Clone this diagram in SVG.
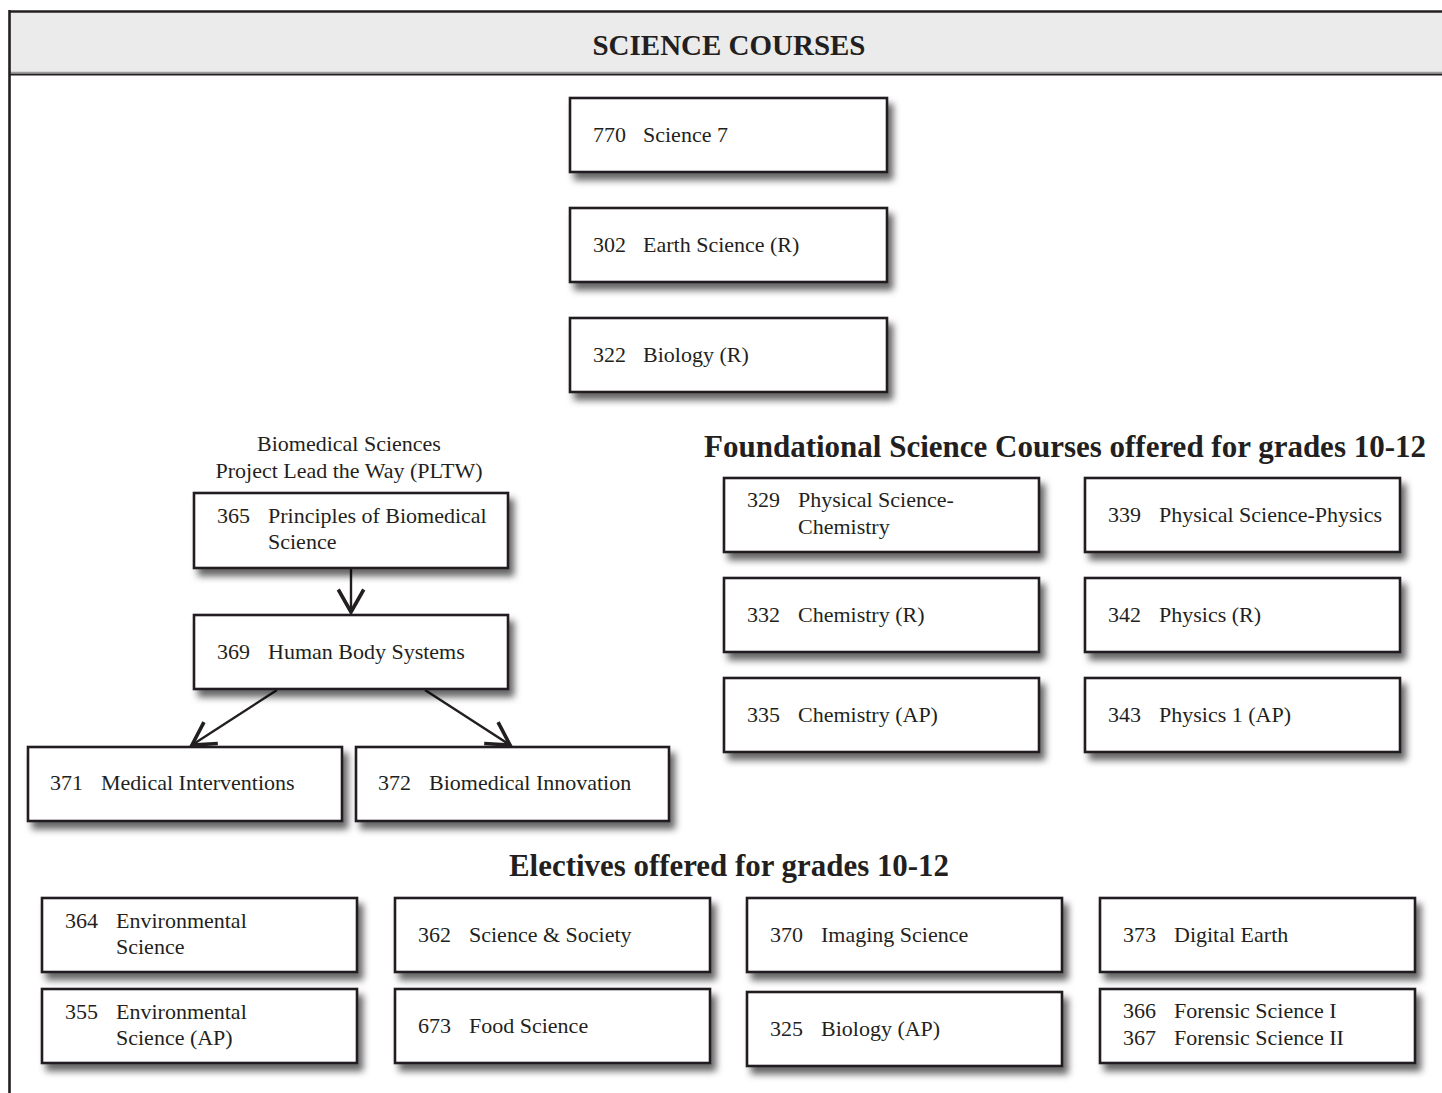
<svg xmlns="http://www.w3.org/2000/svg" width="1442" height="1093" viewBox="0 0 1442 1093">
<style>
  .box { fill: #ffffff; stroke: #231f20; stroke-width: 2.6; filter: url(#sh); }
  .t { font-family: "Liberation Serif", "Times New Roman", serif; font-size: 22px; fill: #231f20; }
  .h { font-family: "Liberation Serif", "Times New Roman", serif; font-weight: bold; fill: #231f20; }
  .conn { stroke: #231f20; stroke-width: 2.4; fill: none; marker-end: url(#ah); }
</style>
<defs>
  <filter id="sh" x="-10%" y="-20%" width="130%" height="160%">
    <feDropShadow dx="5" dy="7" stdDeviation="3.6" flood-color="#000" flood-opacity="0.6"/>
  </filter>
  <marker id="ah" markerUnits="userSpaceOnUse" markerWidth="30" markerHeight="30" viewBox="-16 -10 20 20" refX="0" refY="0" orient="auto">
    <path d="M-15,-8.5 L0,0 L-15,8.5" fill="none" stroke="#231f20" stroke-width="2.4" stroke-linejoin="miter"/>
  </marker>
</defs>
<rect x="0" y="0" width="1442" height="1093" fill="#ffffff"/>

<g id="frame">
  <rect x="9" y="11" width="1450" height="62" fill="#ebebec"/>
  <line x1="9" y1="11.5" x2="1442" y2="11.5" stroke="#231f20" stroke-width="2.6"/>
  <line x1="9" y1="72.5" x2="1442" y2="72.5" stroke="#9a9a9a" stroke-width="1.5"/>
  <line x1="9" y1="74.5" x2="1442" y2="74.5" stroke="#231f20" stroke-width="2"/>
  <line x1="9.5" y1="10" x2="9.5" y2="1093" stroke="#231f20" stroke-width="2.6"/>
  <text class="h" x="729" y="55" font-size="29" text-anchor="middle" textLength="273" lengthAdjust="spacingAndGlyphs">SCIENCE COURSES</text>
</g>

<g id="headings">
  <text class="t" x="349" y="451" text-anchor="middle">Biomedical Sciences</text>
  <text class="t" x="349" y="478" text-anchor="middle">Project Lead the Way (PLTW)</text>
  <text class="h" x="704" y="457" font-size="30.5" textLength="722" lengthAdjust="spacingAndGlyphs">Foundational Science Courses offered for grades 10-12</text>
  <text class="h" x="509" y="876" font-size="32" textLength="440" lengthAdjust="spacingAndGlyphs">Electives offered for grades 10-12</text>
</g>

<g id="connectors">
  <line class="conn" x1="351" y1="568" x2="351" y2="612"/>
  <line class="conn" x1="277" y1="690" x2="192" y2="745"/>
  <line class="conn" x1="425" y1="690" x2="510" y2="745"/>
</g>

<g id="n770"><rect class="box" x="570" y="98" width="317" height="74"/><text class="t" x="593" y="142">770</text><text class="t" x="643" y="142">Science 7</text></g>
<g id="n302"><rect class="box" x="570" y="208" width="317" height="74"/><text class="t" x="593" y="252">302</text><text class="t" x="643" y="252">Earth Science (R)</text></g>
<g id="n322"><rect class="box" x="570" y="318" width="317" height="74"/><text class="t" x="593" y="362">322</text><text class="t" x="643" y="362">Biology (R)</text></g>

<g id="n365"><rect class="box" x="194" y="493" width="314" height="75"/><text class="t" x="217" y="523">365</text><text class="t" x="268" y="523">Principles of Biomedical</text><text class="t" x="268" y="549">Science</text></g>
<g id="n369"><rect class="box" x="194" y="615" width="314" height="74"/><text class="t" x="217" y="659">369</text><text class="t" x="268" y="659">Human Body Systems</text></g>
<g id="n371"><rect class="box" x="28" y="747" width="314" height="74"/><text class="t" x="50" y="790">371</text><text class="t" x="101" y="790">Medical Interventions</text></g>
<g id="n372"><rect class="box" x="356" y="747" width="313" height="74"/><text class="t" x="378" y="790">372</text><text class="t" x="429" y="790">Biomedical Innovation</text></g>

<g id="n329"><rect class="box" x="724" y="478" width="315" height="74"/><text class="t" x="747" y="507">329</text><text class="t" x="798" y="507">Physical Science-</text><text class="t" x="798" y="534">Chemistry</text></g>
<g id="n339"><rect class="box" x="1085" y="478" width="315" height="74"/><text class="t" x="1108" y="522">339</text><text class="t" x="1159" y="522">Physical Science-Physics</text></g>
<g id="n332"><rect class="box" x="724" y="578" width="315" height="74"/><text class="t" x="747" y="622">332</text><text class="t" x="798" y="622">Chemistry (R)</text></g>
<g id="n342"><rect class="box" x="1085" y="578" width="315" height="74"/><text class="t" x="1108" y="622">342</text><text class="t" x="1159" y="622">Physics (R)</text></g>
<g id="n335"><rect class="box" x="724" y="678" width="315" height="74"/><text class="t" x="747" y="722">335</text><text class="t" x="798" y="722">Chemistry (AP)</text></g>
<g id="n343"><rect class="box" x="1085" y="678" width="315" height="74"/><text class="t" x="1108" y="722">343</text><text class="t" x="1159" y="722">Physics 1 (AP)</text></g>

<g id="n364"><rect class="box" x="42" y="898" width="315" height="74"/><text class="t" x="65" y="928">364</text><text class="t" x="116" y="928">Environmental</text><text class="t" x="116" y="954">Science</text></g>
<g id="n362"><rect class="box" x="395" y="898" width="315" height="74"/><text class="t" x="418" y="942">362</text><text class="t" x="469" y="942">Science &amp; Society</text></g>
<g id="n370"><rect class="box" x="747" y="898" width="315" height="74"/><text class="t" x="770" y="942">370</text><text class="t" x="821" y="942">Imaging Science</text></g>
<g id="n373"><rect class="box" x="1100" y="898" width="315" height="74"/><text class="t" x="1123" y="942">373</text><text class="t" x="1174" y="942">Digital Earth</text></g>

<g id="n355"><rect class="box" x="42" y="989" width="315" height="74"/><text class="t" x="65" y="1019">355</text><text class="t" x="116" y="1019">Environmental</text><text class="t" x="116" y="1045">Science (AP)</text></g>
<g id="n673"><rect class="box" x="395" y="989" width="315" height="74"/><text class="t" x="418" y="1033">673</text><text class="t" x="469" y="1033">Food Science</text></g>
<g id="n325"><rect class="box" x="747" y="992" width="315" height="74"/><text class="t" x="770" y="1036">325</text><text class="t" x="821" y="1036">Biology (AP)</text></g>
<g id="n366"><rect class="box" x="1100" y="989" width="315" height="74"/><text class="t" x="1123" y="1018">366</text><text class="t" x="1174" y="1018">Forensic Science I</text><text class="t" x="1123" y="1045">367</text><text class="t" x="1174" y="1045">Forensic Science II</text></g>
</svg>
